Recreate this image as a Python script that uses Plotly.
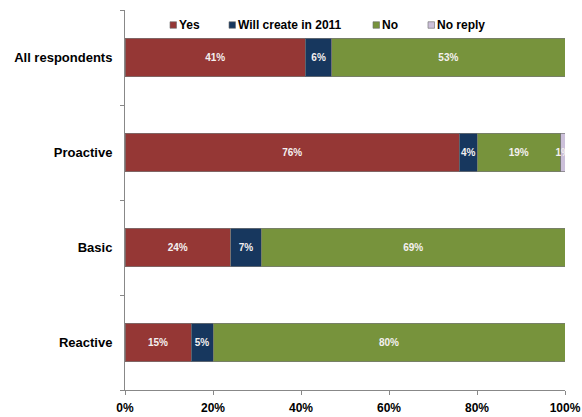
import plotly.graph_objects as go

# Survey segments (top to bottom)
segments = ["All respondents", "Proactive", "Basic", "Reactive"]

# Share of respondents per answer, in percent
yes = [41, 76, 24, 15]
will_create = [6, 4, 7, 5]
no = [53, 19, 69, 80]
no_reply = [0, 1, 0, 0]

series = [
    ("Yes", yes, "#953735"),
    ("Will create in 2011", will_create, "#17375E"),
    ("No", no, "#77933C"),
    ("No reply", no_reply, "#CCC0DA"),
]

x_ticks = [0, 20, 40, 60, 80, 100]

FONT = "Liberation Sans"

fig = go.Figure()
for name, vals, color in series:
    fig.add_trace(go.Bar(
        name=name,
        y=segments,
        x=vals,
        orientation="h",
        marker=dict(color=color, line=dict(color="rgba(120,120,120,0.7)", width=1)),
        text=[f"{v}%" if v > 0 else "" for v in vals],
        textposition="inside",
        insidetextanchor="middle",
        constraintext="none",
        textangle=0,
        textfont=dict(family=FONT, size=10, color="#F4F0F0", weight="bold"),
        hoverinfo="skip",
        showlegend=False,
    ))

# Compact legend row inside the top of the plot: small square + label
legend_left_px = [170, 229, 373, 428]   # left edge of each swatch, in pixels
plot_left, plot_width = 125, 440
plot_top, plot_height = 10, 380
legend_y_px = 25
sw = 6.5

def px_to_x(px):
    return (px - plot_left) / plot_width

def px_to_y(px):
    return (plot_top + plot_height - px) / plot_height

for (name, _, color), left in zip(series, legend_left_px):
    fig.add_shape(
        type="rect", xref="paper", yref="paper",
        x0=px_to_x(left), x1=px_to_x(left + sw),
        y0=px_to_y(legend_y_px + sw / 2), y1=px_to_y(legend_y_px - sw / 2),
        fillcolor=color, line=dict(color="rgba(110,110,110,0.8)", width=0.8),
    )
    fig.add_annotation(
        xref="paper", yref="paper",
        x=px_to_x(left + sw + 0.5), y=px_to_y(legend_y_px),
        xanchor="left", yanchor="middle",
        text=name, showarrow=False,
        font=dict(family=FONT, size=12, color="black", weight="bold"),
    )

fig.update_layout(
    barmode="stack",
    bargap=0.59,
    width=582,
    height=417,
    margin=dict(l=125, r=17, t=10, b=27),
    paper_bgcolor="white",
    plot_bgcolor="white",
    font=dict(family=FONT, color="black"),
    showlegend=False,
    xaxis=dict(
        range=[0, 100],
        tickvals=x_ticks,
        ticktext=[f"{t}%" for t in x_ticks],
        ticks="outside",
        ticklen=4,
        tickcolor="#888888",
        showline=True,
        linecolor="#888888",
        linewidth=1,
        showgrid=False,
        zeroline=False,
        automargin=False,
        ticklabelstandoff=3,
        tickfont=dict(family=FONT, size=12, color="black", weight="bold"),
        fixedrange=True,
    ),
    yaxis=dict(
        categoryorder="array",
        categoryarray=segments[::-1],
        tickson="boundaries",
        ticks="outside",
        ticklen=4,
        tickcolor="#888888",
        showline=True,
        linecolor="#888888",
        linewidth=1,
        showgrid=False,
        automargin=False,
        tickfont=dict(family=FONT, size=13, color="black", weight="bold"),
        ticklabelstandoff=9,
        fixedrange=True,
    ),
)

fig.write_html("out.html")
